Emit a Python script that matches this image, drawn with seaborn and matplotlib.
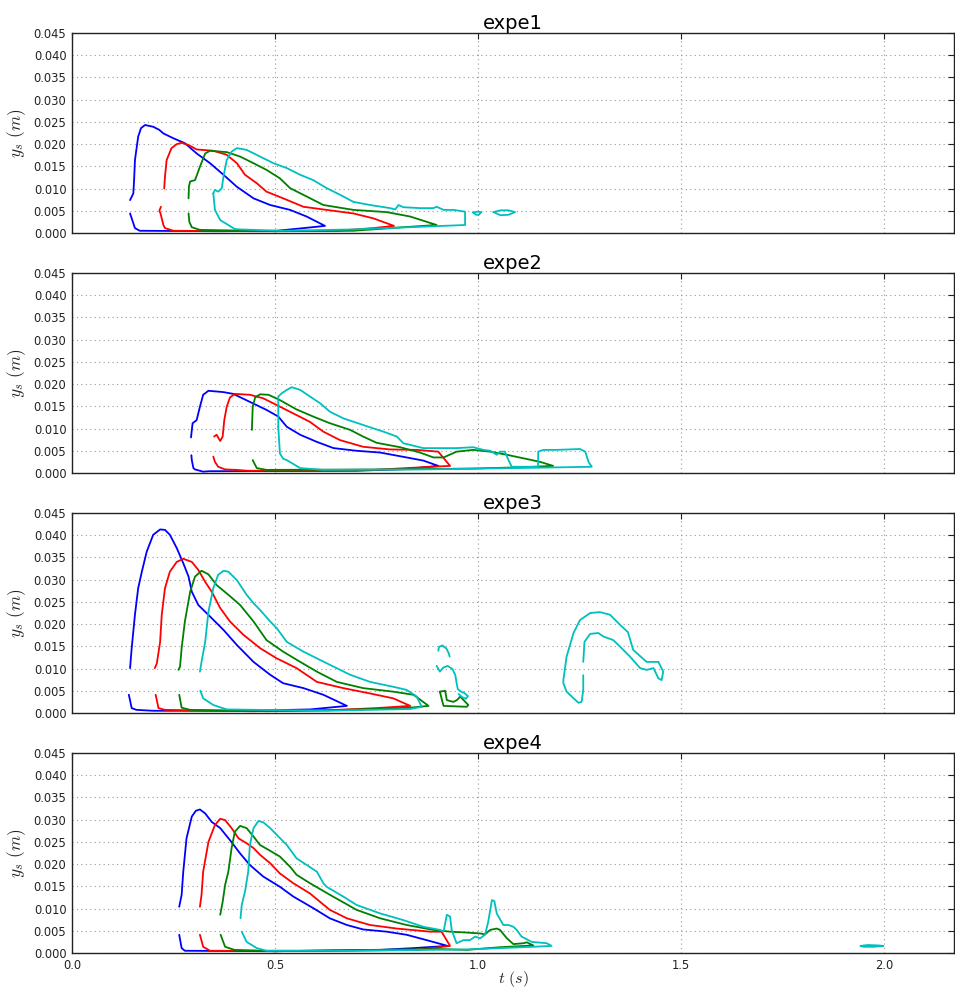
import pandas as pd
import matplotlib
matplotlib.use("Agg")
import matplotlib.pyplot as plt
import seaborn as sns

# Each curve is a list of (t, y) points.
# None marks a break in the drawn line (sparse / dotted stretch).

expe1_blue = [(0.143, 0.0074), (0.151, 0.0089), (0.153, 0.0120), (0.155, 0.0164), (0.163, 0.0217),
              (0.170, 0.0236), (0.180, 0.0243), (0.200, 0.0239), (0.215, 0.0232), (0.225, 0.0224),
              (0.250, 0.0213), (0.278, 0.0202), (0.307, 0.0179), (0.340, 0.0157), (0.373, 0.0131),
              (0.406, 0.0104), (0.447, 0.0078), (0.488, 0.0063), (0.537, 0.0052), (0.578, 0.0037),
              (0.623, 0.0016), (0.570, 0.0011), (0.504, 0.0005), (0.365, 0.0004), (0.167, 0.0005),
              (0.155, 0.0011), (0.151, 0.0022), (0.143, 0.0044)]
expe1_red = [(0.227, 0.0100), (0.229, 0.0127), (0.233, 0.0164), (0.245, 0.0191), (0.258, 0.0200),
             (0.270, 0.0203), (0.287, 0.0198), (0.307, 0.0188), (0.348, 0.0185), (0.381, 0.0176),
             (0.406, 0.0157), (0.426, 0.0131), (0.455, 0.0112), (0.479, 0.0093), (0.520, 0.0078),
             (0.570, 0.0059), (0.627, 0.0052), (0.693, 0.0044), (0.742, 0.0033), (0.793, 0.0016),
             (0.742, 0.0011), (0.652, 0.0005), (0.460, 0.0004), (0.250, 0.0005), (0.229, 0.0011),
             (0.225, 0.0018), (0.218, 0.0044), (0.215, 0.0050), (0.219, 0.0059)]
expe1_green = [(0.287, 0.0078), (0.288, 0.0105), (0.291, 0.0116), (0.303, 0.0119), (0.315, 0.0149),
               (0.328, 0.0179), (0.340, 0.0185), (0.381, 0.0182), (0.414, 0.0172), (0.447, 0.0157),
               (0.479, 0.0142), (0.512, 0.0123), (0.537, 0.0101), (0.578, 0.0082), (0.619, 0.0063),
               (0.693, 0.0052), (0.775, 0.0047), (0.833, 0.0037), (0.898, 0.0018), (0.816, 0.0013),
               (0.692, 0.0005), (0.500, 0.0004), (0.315, 0.0007), (0.295, 0.0013), (0.289, 0.0025),
               (0.287, 0.0044)]
expe1_cyan = [(0.348, 0.0089), (0.352, 0.0097), (0.360, 0.0093), (0.369, 0.0101), (0.373, 0.0127),
              (0.381, 0.0164), (0.393, 0.0183), (0.406, 0.0191), (0.430, 0.0187), (0.463, 0.0172),
              (0.496, 0.0157), (0.529, 0.0146), (0.562, 0.0131), (0.594, 0.0119), (0.627, 0.0101),
              (0.660, 0.0086), (0.693, 0.0070), (0.734, 0.0063), (0.783, 0.0056), (0.796, 0.0053),
              (0.804, 0.0063), (0.816, 0.0058), (0.857, 0.0056), (0.890, 0.0056), (0.898, 0.0059),
              (0.915, 0.0052), (0.939, 0.0052), (0.968, 0.0048), (0.968, 0.0018), (0.857, 0.0014),
              (0.693, 0.0008), (0.516, 0.0005), (0.414, 0.0008), (0.401, 0.0009), (0.365, 0.0029),
              (0.352, 0.0052), (0.348, 0.0089), None,
              (0.988, 0.0046), (0.998, 0.0048), (1.008, 0.0047), (1.002, 0.0041), (0.995, 0.0041),
              (0.988, 0.0046), None,
              (1.038, 0.0047), (1.055, 0.0051), (1.075, 0.0051), (1.091, 0.0047), (1.075, 0.0041),
              (1.055, 0.0040), (1.038, 0.0047)]

expe2_blue = [(0.293, 0.0080), (0.297, 0.0112), (0.307, 0.0119), (0.315, 0.0149), (0.323, 0.0176),
              (0.336, 0.0185), (0.373, 0.0182), (0.397, 0.0178), (0.438, 0.0160), (0.479, 0.0142),
              (0.508, 0.0127), (0.529, 0.0104), (0.562, 0.0086), (0.603, 0.0070), (0.644, 0.0056),
              (0.701, 0.0050), (0.759, 0.0046), (0.824, 0.0035), (0.865, 0.0028), (0.902, 0.0016),
              (0.824, 0.0009), (0.701, 0.0005), (0.337, 0.0004), (0.323, 0.0003), (0.303, 0.0008),
              (0.299, 0.0011), (0.295, 0.0029), (0.294, 0.0040)]
expe2_red = [(0.350, 0.0082), (0.356, 0.0086), (0.365, 0.0072), (0.371, 0.0082), (0.375, 0.0119),
             (0.381, 0.0149), (0.389, 0.0170), (0.401, 0.0178), (0.438, 0.0176), (0.471, 0.0168),
             (0.504, 0.0153), (0.545, 0.0134), (0.586, 0.0115), (0.619, 0.0093), (0.660, 0.0074),
             (0.717, 0.0059), (0.783, 0.0053), (0.849, 0.0052), (0.902, 0.0048), (0.931, 0.0016),
             (0.865, 0.0013), (0.742, 0.0007), (0.433, 0.0005), (0.406, 0.0007), (0.377, 0.0008),
             (0.360, 0.0014), (0.352, 0.0025), (0.348, 0.0037)]
expe2_green = [(0.443, 0.0097), (0.445, 0.0149), (0.451, 0.0170), (0.463, 0.0177), (0.484, 0.0176),
               (0.512, 0.0164), (0.553, 0.0143), (0.594, 0.0127), (0.635, 0.0112), (0.685, 0.0097),
               (0.717, 0.0082), (0.750, 0.0068), (0.808, 0.0058), (0.857, 0.0046), (0.890, 0.0035),
               (0.915, 0.0035), (0.947, 0.0048), (0.988, 0.0052), (1.030, 0.0048), (1.071, 0.0041),
               (1.112, 0.0033), (1.153, 0.0025), (1.185, 0.0016), (1.112, 0.0013), (0.988, 0.0010),
               (0.783, 0.0008), (0.479, 0.0007), (0.455, 0.0011), (0.445, 0.0029)]
expe2_cyan = [(0.508, 0.0104), (0.508, 0.0172), (0.516, 0.0179), (0.529, 0.0187), (0.541, 0.0193),
              (0.562, 0.0187), (0.586, 0.0172), (0.611, 0.0157), (0.635, 0.0138), (0.668, 0.0123),
              (0.717, 0.0108), (0.767, 0.0093), (0.800, 0.0082), (0.816, 0.0067), (0.865, 0.0056),
              (0.947, 0.0056), (0.988, 0.0058), (1.013, 0.0052), (1.030, 0.0050), (1.046, 0.0041),
              (1.054, 0.0048), (1.066, 0.0048), (1.075, 0.0029), (1.083, 0.0014), (1.148, 0.0014),
              (1.148, 0.0048), (1.161, 0.0052), (1.194, 0.0052), (1.251, 0.0054), (1.264, 0.0048),
              (1.272, 0.0025), (1.280, 0.0014), (1.153, 0.0012), (1.071, 0.0011), (0.865, 0.0008),
              (0.619, 0.0007), (0.562, 0.0011), (0.529, 0.0029), (0.520, 0.0032), (0.512, 0.0044),
              (0.508, 0.0104)]

expe3_blue = [(0.143, 0.0101), (0.147, 0.0146), (0.155, 0.0221), (0.163, 0.0281), (0.172, 0.0318),
              (0.184, 0.0363), (0.200, 0.0401), (0.217, 0.0413), (0.229, 0.0412), (0.241, 0.0401),
              (0.258, 0.0371), (0.274, 0.0337), (0.287, 0.0307), (0.295, 0.0273), (0.311, 0.0243),
              (0.340, 0.0217), (0.373, 0.0187), (0.406, 0.0153), (0.447, 0.0115), (0.488, 0.0086),
              (0.520, 0.0067), (0.570, 0.0056), (0.619, 0.0041), (0.677, 0.0016), (0.586, 0.0008),
              (0.422, 0.0005), (0.200, 0.0005), (0.159, 0.0007), (0.147, 0.0011), (0.140, 0.0041)]
expe3_red = [(0.204, 0.0101), (0.209, 0.0112), (0.217, 0.0160), (0.221, 0.0221), (0.229, 0.0281),
             (0.241, 0.0318), (0.258, 0.0340), (0.274, 0.0347), (0.295, 0.0340), (0.311, 0.0322),
             (0.328, 0.0295), (0.344, 0.0273), (0.365, 0.0236), (0.389, 0.0206), (0.422, 0.0176),
             (0.463, 0.0146), (0.504, 0.0123), (0.553, 0.0101), (0.603, 0.0070), (0.668, 0.0056),
             (0.734, 0.0044), (0.791, 0.0033), (0.833, 0.0016), (0.750, 0.0011), (0.627, 0.0006),
             (0.440, 0.0004), (0.229, 0.0007), (0.213, 0.0011), (0.206, 0.0041)]
expe3_green = [(0.262, 0.0097), (0.266, 0.0104), (0.270, 0.0146), (0.278, 0.0206), (0.291, 0.0273),
               (0.303, 0.0307), (0.319, 0.0320), (0.336, 0.0312), (0.356, 0.0288), (0.385, 0.0266),
               (0.414, 0.0243), (0.447, 0.0206), (0.479, 0.0164), (0.520, 0.0138), (0.562, 0.0115),
               (0.603, 0.0093), (0.652, 0.0070), (0.717, 0.0056), (0.791, 0.0048), (0.841, 0.0041),
               (0.853, 0.0033), (0.878, 0.0016), (0.833, 0.0012), (0.668, 0.0007), (0.480, 0.0004),
               (0.291, 0.0007), (0.270, 0.0012), (0.264, 0.0041), None,
               (0.906, 0.0048), (0.919, 0.0050), (0.923, 0.0029), (0.939, 0.0025), (0.948, 0.0029),
               (0.956, 0.0037), (0.976, 0.0018), (0.972, 0.0014), (0.915, 0.0016), (0.910, 0.0033),
               (0.906, 0.0048)]
expe3_cyan = [(0.315, 0.0093), (0.319, 0.0115), (0.328, 0.0160), (0.336, 0.0228), (0.348, 0.0281),
              (0.360, 0.0311), (0.373, 0.0320), (0.385, 0.0318), (0.406, 0.0299), (0.430, 0.0266),
              (0.447, 0.0247), (0.463, 0.0232), (0.488, 0.0206), (0.504, 0.0191), (0.529, 0.0160),
              (0.570, 0.0138), (0.627, 0.0112), (0.685, 0.0086), (0.734, 0.0070), (0.791, 0.0059),
              (0.824, 0.0052), (0.849, 0.0037), (0.861, 0.0014), (0.833, 0.0009), (0.630, 0.0005),
              (0.381, 0.0008), (0.348, 0.0018), (0.323, 0.0033), (0.316, 0.0050), None,
              (0.902, 0.0140), (0.904, 0.0149), (0.912, 0.0152), (0.922, 0.0145), (0.928, 0.0134),
              (0.930, 0.0127), None,
              (0.898, 0.0106), (0.906, 0.0093), (0.914, 0.0102), (0.925, 0.0106), (0.937, 0.0099),
              (0.944, 0.0085), (0.947, 0.0068), (0.950, 0.0054), (0.958, 0.0048), (0.966, 0.0045),
              (0.975, 0.0038), (0.970, 0.0032), (0.960, 0.0036), (0.952, 0.0043), None,
              (1.259, 0.0115), (1.262, 0.0160), (1.276, 0.0178), (1.296, 0.0180), (1.309, 0.0172),
              (1.333, 0.0164), (1.350, 0.0149), (1.374, 0.0127), (1.399, 0.0101), (1.415, 0.0097),
              (1.432, 0.0101), (1.444, 0.0078), (1.452, 0.0074), (1.456, 0.0093), (1.444, 0.0115),
              (1.415, 0.0115), (1.382, 0.0142), (1.369, 0.0182), (1.350, 0.0198), (1.325, 0.0221),
              (1.300, 0.0227), (1.276, 0.0225), (1.251, 0.0209), (1.235, 0.0180), (1.218, 0.0127),
              (1.210, 0.0074), (1.210, 0.0067), (1.218, 0.0048), (1.247, 0.0023), (1.255, 0.0025),
              (1.259, 0.0052), (1.259, 0.0085)]

expe4_blue = [(0.264, 0.0104), (0.270, 0.0131), (0.274, 0.0183), (0.282, 0.0258), (0.295, 0.0307),
              (0.305, 0.0320), (0.315, 0.0323), (0.328, 0.0314), (0.344, 0.0295), (0.365, 0.0281),
              (0.389, 0.0254), (0.414, 0.0224), (0.438, 0.0198), (0.471, 0.0172), (0.512, 0.0149),
              (0.545, 0.0127), (0.594, 0.0101), (0.635, 0.0078), (0.677, 0.0063), (0.717, 0.0053),
              (0.775, 0.0048), (0.824, 0.0041), (0.873, 0.0029), (0.925, 0.0016), (0.841, 0.0011),
              (0.759, 0.0007), (0.500, 0.0004), (0.278, 0.0005), (0.270, 0.0011), (0.264, 0.0041)]
expe4_red = [(0.315, 0.0104), (0.319, 0.0131), (0.323, 0.0183), (0.336, 0.0250), (0.352, 0.0288),
             (0.365, 0.0302), (0.377, 0.0299), (0.393, 0.0281), (0.410, 0.0258), (0.430, 0.0247),
             (0.447, 0.0236), (0.463, 0.0221), (0.488, 0.0202), (0.512, 0.0179), (0.545, 0.0157),
             (0.586, 0.0134), (0.611, 0.0115), (0.635, 0.0097), (0.677, 0.0078), (0.734, 0.0063),
             (0.800, 0.0055), (0.882, 0.0048), (0.910, 0.0048), (0.931, 0.0016), (0.849, 0.0007),
             (0.600, 0.0005), (0.340, 0.0005), (0.323, 0.0014), (0.315, 0.0041)]
expe4_green = [(0.365, 0.0086), (0.371, 0.0115), (0.377, 0.0153), (0.385, 0.0183), (0.393, 0.0236),
               (0.401, 0.0273), (0.414, 0.0286), (0.430, 0.0281), (0.447, 0.0262), (0.463, 0.0243),
               (0.484, 0.0232), (0.512, 0.0217), (0.537, 0.0194), (0.553, 0.0176), (0.586, 0.0157),
               (0.635, 0.0131), (0.701, 0.0097), (0.759, 0.0078), (0.824, 0.0063), (0.890, 0.0052),
               (0.931, 0.0048), (0.972, 0.0046), (1.005, 0.0044), (1.017, 0.0042), (1.030, 0.0052),
               (1.046, 0.0055), (1.054, 0.0052), (1.071, 0.0033), (1.087, 0.0020), (1.112, 0.0022),
               (1.120, 0.0024), (1.136, 0.0017), (1.054, 0.0013), (0.972, 0.0007), (0.900, 0.0009),
               (0.500, 0.0004), (0.400, 0.0007), (0.377, 0.0014), (0.366, 0.0041)]
expe4_cyan = [(0.415, 0.0078), (0.418, 0.0108), (0.426, 0.0138), (0.434, 0.0183), (0.438, 0.0243),
              (0.447, 0.0281), (0.459, 0.0297), (0.471, 0.0294), (0.488, 0.0281), (0.504, 0.0266),
              (0.529, 0.0243), (0.553, 0.0213), (0.578, 0.0198), (0.603, 0.0183), (0.619, 0.0157),
              (0.627, 0.0149), (0.668, 0.0127), (0.701, 0.0108), (0.759, 0.0089), (0.816, 0.0074),
              (0.865, 0.0059), (0.906, 0.0052), (0.915, 0.0048), (0.923, 0.0086), (0.931, 0.0082),
              (0.935, 0.0052), (0.947, 0.0022), (0.964, 0.0029), (0.980, 0.0029), (0.993, 0.0037),
              (1.005, 0.0033), (1.017, 0.0041), (1.025, 0.0070), (1.034, 0.0119), (1.040, 0.0117),
              (1.046, 0.0089), (1.062, 0.0063), (1.075, 0.0063), (1.087, 0.0059), (1.095, 0.0052),
              (1.107, 0.0037), (1.132, 0.0025), (1.169, 0.0022), (1.181, 0.0016), (1.136, 0.0014),
              (1.054, 0.0011), (0.972, 0.0008), (0.700, 0.0005), (0.479, 0.0005), (0.455, 0.0011),
              (0.430, 0.0025), (0.418, 0.0048), None,
              (1.942, 0.0016), (1.960, 0.0018), (1.985, 0.0017), (1.998, 0.0016), (1.975, 0.0014),
              (1.950, 0.0014), (1.942, 0.0016)]

experiments = ["expe1", "expe2", "expe3", "expe4"]
runs = ["b", "r", "g", "c"]
curves = {
    "expe1": [expe1_blue, expe1_red, expe1_green, expe1_cyan],
    "expe2": [expe2_blue, expe2_red, expe2_green, expe2_cyan],
    "expe3": [expe3_blue, expe3_red, expe3_green, expe3_cyan],
    "expe4": [expe4_blue, expe4_red, expe4_green, expe4_cyan],
}
palette = {"b": "#0000ff", "r": "#ff0000", "g": "#008000", "c": "#00bfbf"}

# long table: one row per point, a segment id per unbroken stretch
rows = []
seg = 0
for expe in experiments:
    for run, pts in zip(runs, curves[expe]):
        seg += 1
        for p in pts:
            if p is None:
                seg += 1
                continue
            rows.append({"expe": expe, "run": run, "seg": seg, "t": p[0], "y": p[1]})
df = pd.DataFrame(rows)

sns.set_theme(style="white")
plt.rcParams["font.family"] = ["DejaVu Sans"]
plt.rcParams["mathtext.fontset"] = "cm"

W, H = 955, 992
fig = plt.figure(figsize=(W / 100, H / 100), dpi=100)
tops = [33, 273, 513, 753]

for i, expe in enumerate(experiments):
    ax = fig.add_axes([72 / W, 1 - (tops[i] + 200) / H, 882 / W, 200 / H])
    sns.lineplot(data=df[df["expe"] == expe], x="t", y="y", hue="run", units="seg",
                 estimator=None, sort=False, palette=palette, hue_order=runs,
                 linewidth=1.3, legend=False, ax=ax)
    ax.set_xlim(0, 2.172)
    ax.set_ylim(0, 0.045)
    ax.set_yticks([k * 0.005 for k in range(10)])
    ax.set_yticklabels([f"{k * 0.005:.3f}" for k in range(10)])
    ax.set_xticks([0.0, 0.5, 1.0, 1.5, 2.0])
    ax.grid(True, color="#9a9a9a", linestyle=(0, (1, 3)), linewidth=0.8)
    ax.tick_params(direction="in", length=4, width=0.8, labelsize=8.3, top=True, right=True,
                   colors="#222222", labelcolor="#222222", pad=4)
    for s in ax.spines.values():
        s.set_color("#222222")
        s.set_linewidth(1.0)
    ax.set_title(expe, fontsize=14, pad=3, color="black")
    ax.set_ylabel(r"$y_s\ (m)$", fontsize=12.5, labelpad=4)
    if i < 3:
        ax.set_xticklabels([])
        ax.set_xlabel("")
    else:
        ax.set_xticklabels(["0.0", "0.5", "1.0", "1.5", "2.0"])
        ax.set_xlabel(r"$t\ (s)$", fontsize=11.5, labelpad=-2)

fig.savefig("out.png", dpi=100)
